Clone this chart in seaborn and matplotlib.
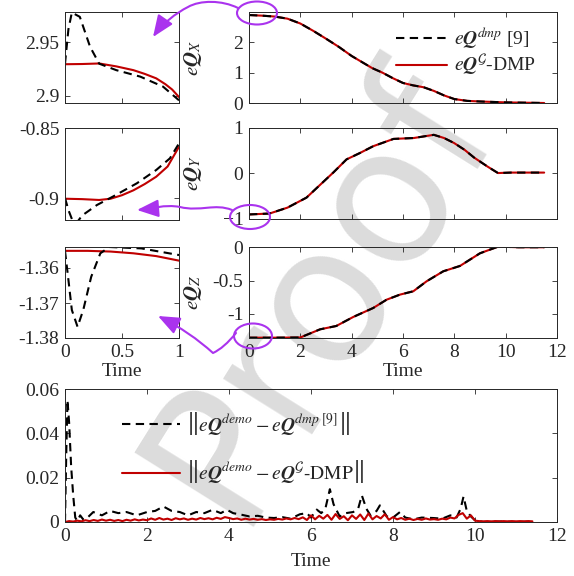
import numpy as np
import pandas as pd
import matplotlib
matplotlib.use("Agg")
import matplotlib.pyplot as plt
import seaborn as sns
from matplotlib.patches import Ellipse, FancyArrowPatch
from matplotlib.path import Path
from matplotlib.transforms import Affine2D
from matplotlib.lines import Line2D

# ---------------- data ----------------
# main trajectories (same for eQ^dmp and eQ^G-DMP at this scale)
t_x = [0, 0.5, 1, 1.5, 2, 2.5, 3, 3.5, 4, 4.4, 4.8, 5.2, 5.6, 6, 6.4, 6.8, 7.2, 7.6, 8, 8.5, 9, 10, 11.5]
qx = [2.90, 2.88, 2.85, 2.78, 2.62, 2.38, 2.12, 1.85, 1.55, 1.35, 1.15, 1.00, 0.82, 0.66, 0.58, 0.52,
      0.40, 0.25, 0.13, 0.07, 0.05, 0.02, 0.00]
t_y = [0, 0.8, 1.5, 2.24, 2.75, 3.3, 3.8, 4.32, 4.84, 5.63, 6.42, 7.2, 7.6, 7.99, 8.4, 8.77, 9.3, 9.7, 10.2, 11.5]
qy = [-0.90, -0.88, -0.75, -0.53, -0.26, 0.03, 0.31, 0.45, 0.60, 0.76, 0.78, 0.85, 0.78, 0.67, 0.52,
      0.35, 0.15, 0.01, 0.02, 0.02]
t_z = [0, 1, 2, 2.77, 3.4, 4.06, 4.84, 5.36, 5.88, 6.4, 6.92, 7.57, 8.22, 9.0, 9.71, 10.5, 11.5]
qz = [-1.355, -1.355, -1.352, -1.23, -1.18, -1.045, -0.91, -0.786, -0.71, -0.66, -0.51, -0.36, -0.28,
      -0.09, 0.01, 0.0, 0.0]

# zoomed insets, first second
ti_x_red = [0, 0.15, 0.3, 0.45, 0.6, 0.7, 0.8, 0.88, 0.94, 1.0]
qi_x_red = [2.9295, 2.9297, 2.9302, 2.9275, 2.924, 2.9205, 2.9164, 2.911, 2.906, 2.899]
ti_x_blk = [0, 0.03, 0.06, 0.13, 0.22, 0.3, 0.45, 0.66, 0.86, 0.98, 1.0]
qi_x_blk = [2.930, 2.962, 2.9775, 2.9735, 2.9457, 2.930, 2.924, 2.918, 2.9087, 2.8978, 2.896]

ti_y_red = [0, 0.15, 0.3, 0.4, 0.5, 0.6, 0.7, 0.8, 0.9, 1.0]
qi_y_red = [-0.9005, -0.9008, -0.9014, -0.9005, -0.898, -0.8945, -0.890, -0.8848, -0.8775, -0.8634]
ti_y_blk = [0, 0.03, 0.07, 0.1, 0.15, 0.28, 0.42, 0.63, 0.8, 0.92, 1.0]
qi_y_blk = [-0.900, -0.9086, -0.917, -0.918, -0.9125, -0.905, -0.899, -0.8895, -0.880, -0.8717, -0.861]

ti_z_red = [0, 0.2, 0.4, 0.6, 0.8, 1.0]
qi_z_red = [-1.3551, -1.3551, -1.3553, -1.3558, -1.3566, -1.3579]
ti_z_blk = [0, 0.03, 0.06, 0.11, 0.16, 0.23, 0.31, 0.39, 0.67, 1.0]
qi_z_blk = [-1.3551, -1.3634, -1.372, -1.3768, -1.372, -1.3625, -1.3558, -1.3540, -1.3544, -1.3563]

# error norms
t_err_dmp = [0, 0.03, 0.06, 0.1, 0.15, 0.2, 0.25, 0.3, 0.37, 0.45, 0.55, 0.69, 0.9, 1.1, 1.3, 1.5, 1.75,
             2.0, 2.2, 2.4, 2.6, 2.8, 3.0, 3.2, 3.4, 3.6, 3.8, 3.95, 4.1, 4.3, 4.5, 4.7, 4.9, 5.1, 5.3,
             5.5, 5.73, 5.9, 6.0, 6.14, 6.25, 6.35, 6.46, 6.55, 6.7, 6.85, 7.03, 7.15, 7.24, 7.35, 7.45,
             7.6, 7.68, 7.8, 7.85, 8.0, 8.17, 8.3, 8.5, 8.7, 8.98, 9.2, 9.4, 9.55, 9.65, 9.72, 9.8, 9.9,
             10.0, 10.2, 10.6, 11.0, 11.45]
err_dmp = [0.0, 0.03, 0.055, 0.045, 0.025, 0.012, 0.002, 0.0005, 0.003, 0.001, 0.002, 0.0045, 0.003,
           0.005, 0.004, 0.0045, 0.003, 0.0045, 0.005, 0.007, 0.005, 0.0045, 0.003, 0.0045, 0.004,
           0.0055, 0.004, 0.0055, 0.004, 0.0033, 0.0025, 0.0028, 0.002, 0.0018, 0.0022, 0.0015, 0.0035,
           0.004, 0.002, 0.0056, 0.004, 0.006, 0.0148, 0.008, 0.0025, 0.004, 0.0045, 0.006, 0.012,
           0.006, 0.003, 0.005, 0.0075, 0.004, 0.0025, 0.002, 0.0045, 0.002, 0.0012, 0.002, 0.0018,
           0.0015, 0.003, 0.002, 0.006, 0.0115, 0.005, 0.0025, 0.0008, 0.0, 0.0002, 0.0, 0.0002]
t_err_g = list(np.round(np.arange(0, 11.45, 0.1), 1))
err_g = [0.0, 0.0004, 0.0002, 0.0006, 0.0003, 0.0008, 0.0004, 0.0009, 0.0005, 0.0011, 0.0006,
         0.0010, 0.0005, 0.0009, 0.0004, 0.0010, 0.0006, 0.0012, 0.0007, 0.0011, 0.0008,
         0.0016, 0.0010, 0.0018, 0.0011, 0.0015, 0.0009, 0.0017, 0.0012, 0.0016, 0.0010,
         0.0015, 0.0011, 0.0018, 0.0013, 0.0017, 0.0012, 0.0019, 0.0014, 0.0022, 0.0018,
         0.0013, 0.0016, 0.0010, 0.0015, 0.0011, 0.0014, 0.0010, 0.0013, 0.0009, 0.0012,
         0.0010, 0.0014, 0.0011, 0.0016, 0.0012, 0.0018, 0.0013, 0.0021, 0.0009, 0.0030,
         0.0012, 0.0028, 0.0015, 0.0032, 0.0010, 0.0036, 0.0014, 0.0026, 0.0008, 0.0030,
         0.0014, 0.0034, 0.0009, 0.0038, 0.0012, 0.0027, 0.0016, 0.0035, 0.0010, 0.0022,
         0.0012, 0.0018, 0.0010, 0.0015, 0.0009, 0.0014, 0.0010, 0.0016, 0.0011, 0.0013,
         0.0010, 0.0015, 0.0012, 0.0020, 0.0016, 0.0032, 0.0040, 0.0015, 0.0030, 0.0006,
         0.0004, 0.0003, 0.0004, 0.0003, 0.0004, 0.0003, 0.0004, 0.0003, 0.0004, 0.0003,
         0.0004, 0.0003, 0.0004, 0.0003]

main_xticks = [0, 2, 4, 6, 8, 10, 12]
inset_xticks = [0, 0.5, 1]

# ---------------- style ----------------
sns.set_theme(style="ticks")
plt.rcParams.update({
    "font.family": ["Liberation Serif", "DejaVu Serif"],
    "mathtext.fontset": "stix",
    "axes.edgecolor": "#262626",
    "axes.linewidth": 0.7,
    "xtick.color": "#262626",
    "ytick.color": "#262626",
    "text.color": "#262626",
})

RED = "#c00000"
BLK = "black"
MAG = "#aa33ee"
FS = 14
W, H = 574, 576
fig = plt.figure(figsize=(W / 100, H / 100), dpi=100)
pix = Affine2D().scale(1 / W, -1 / H).translate(0, 1) + fig.transFigure

# watermark
fig.text(320 / W, 1 - 292 / H, "Proof", rotation=58, fontsize=138, color="#dcdcdc",
         ha="center", va="center", family="DejaVu Sans", zorder=-5)


def add_ax(l, t, r, b):
    ax = fig.add_axes([l / W, 1 - b / H, (r - l) / W, (b - t) / H])
    ax.set_facecolor("none")
    ax.tick_params(direction="in", top=True, right=True, length=3.5, width=0.6,
                   labelsize=FS, pad=4)
    for s in ax.spines.values():
        s.set_linewidth(0.7)
        s.set_color("#262626")
    return ax


def pair(ax, tr, vr, tb, vb):
    sns.lineplot(x=tr, y=vr, ax=ax, color=RED, lw=1.5, estimator=None, sort=False)
    sns.lineplot(x=tb, y=vb, ax=ax, color=BLK, lw=1.5, estimator=None, sort=False)
    ax.lines[-1].set_dashes((4, 2.6))


# main panels
axX = add_ax(249, 12, 557, 103)
pair(axX, t_x, qx, t_x, qx)
axX.set_xlim(0, 12); axX.set_ylim(0, 3)
axX.set_yticks([0, 1, 2]); axX.set_xticks(main_xticks); axX.set_xticklabels([])
axX.set_ylabel(r"$e\mathbfit{Q}_X$", fontsize=15)
axX.yaxis.set_label_coords(-0.145, 0.5)

axY = add_ax(249, 128, 557, 219)
pair(axY, t_y, qy, t_y, qy)
axY.set_xlim(0, 12); axY.set_ylim(-1, 1)
axY.set_yticks([-1, 0, 1]); axY.set_xticks(main_xticks); axY.set_xticklabels([])
axY.set_ylabel(r"$e\mathbfit{Q}_Y$", fontsize=15)
axY.yaxis.set_label_coords(-0.145, 0.5)

axZ = add_ax(249, 247, 557, 338)
pair(axZ, t_z, qz, t_z, qz)
axZ.set_xlim(0, 12); axZ.set_ylim(-1.36, 0.004)
axZ.set_yticks([-1, -0.5, 0]); axZ.set_yticklabels(["-1", "-0.5", "0"])
axZ.set_xticks(main_xticks)
axZ.set_xlabel("Time", fontsize=FS, labelpad=2)
axZ.set_ylabel(r"$e\mathbfit{Q}_Z$", fontsize=15)
axZ.yaxis.set_label_coords(-0.145, 0.5)

h1 = [Line2D([], [], color=BLK, lw=1.5, dashes=(4, 2.6)), Line2D([], [], color=RED, lw=1.5)]
l1 = [r"$e\mathbfit{Q}^{dmp}$ [9]", r"$e\mathbfit{Q}^{\mathcal{G}}$-DMP"]
axX.legend(h1, l1, loc="upper left", bbox_to_anchor=((396 - 249) / 308, 1 - (25 - 12) / 91),
           frameon=False, fontsize=FS, handlelength=2.6, handletextpad=0.4, labelspacing=0.1,
           borderaxespad=0, borderpad=0)

# insets
iX = add_ax(65, 12, 179, 103)
pair(iX, ti_x_red, qi_x_red, ti_x_blk, qi_x_blk)
iX.set_xlim(0, 1); iX.set_ylim(2.8935, 2.978)
iX.set_yticks([2.9, 2.95]); iX.set_yticklabels(["2.9", "2.95"])
iX.set_xticks(inset_xticks); iX.set_xticklabels([])

iY = add_ax(65, 128, 179, 220)
pair(iY, ti_y_red, qi_y_red, ti_y_blk, qi_y_blk)
iY.set_xlim(0, 1); iY.set_ylim(-0.9157, -0.85)
iY.set_yticks([-0.9, -0.85]); iY.set_yticklabels(["-0.9", "-0.85"])
iY.set_xticks(inset_xticks); iY.set_xticklabels([])

iZ = add_ax(65, 247, 179, 338)
pair(iZ, ti_z_red, qi_z_red, ti_z_blk, qi_z_blk)
iZ.set_xlim(0, 1); iZ.set_ylim(-1.38, -1.354)
iZ.set_yticks([-1.38, -1.37, -1.36]); iZ.set_yticklabels(["-1.38", "-1.37", "-1.36"])
iZ.set_xticks(inset_xticks); iZ.set_xticklabels(["0", "0.5", "1"])
iZ.set_xlabel("Time", fontsize=FS, labelpad=2)

# error panel
axE = add_ax(65, 389, 557, 522)
sns.lineplot(x=t_err_dmp, y=err_dmp, ax=axE, color=BLK, lw=1.5, estimator=None, sort=False)
axE.lines[-1].set_dashes((4, 2.6))
sns.lineplot(x=t_err_g, y=err_g, ax=axE, color=RED, lw=1.5, estimator=None, sort=False)
axE.set_xlim(0, 12); axE.set_ylim(0, 0.06)
axE.set_xticks(main_xticks)
axE.set_yticks([0, 0.02, 0.04, 0.06]); axE.set_yticklabels(["0", "0.02", "0.04", "0.06"])
axE.set_xlabel("Time", fontsize=FS, labelpad=6)
h2 = [Line2D([], [], color=BLK, lw=1.5, dashes=(4, 2.6)), Line2D([], [], color=RED, lw=1.5)]
l2 = [r"$\left\Vert e\mathbfit{Q}^{demo} - e\mathbfit{Q}^{dmp\ [9]}\right\Vert$",
      r"$\left\Vert e\mathbfit{Q}^{demo} - e\mathbfit{Q}^{\mathcal{G}}\mathrm{\text{-}DMP}\right\Vert$"]
axE.legend(h2, l2, loc="upper left", bbox_to_anchor=((122 - 65) / 492, (522 - 410) / 133),
           frameon=False, fontsize=FS, handlelength=3.0, handletextpad=0.3, labelspacing=1.1,
           borderaxespad=0, borderpad=0)

# magenta annotations
for (cx, cy, w, h) in [(257, 13, 40, 23), (250, 217, 40, 24), (253, 336, 38, 25)]:
    fig.add_artist(Ellipse((cx, cy), w, h, transform=pix, fill=False, edgecolor=MAG, lw=1.5))

paths = [
    ([(238, 8), (222, 0), (200, 0), (188, 7), (176, 13), (162, 24), (153, 37)],
     [Path.MOVETO, Path.CURVE4, Path.CURVE4, Path.CURVE4, Path.CURVE4, Path.CURVE4, Path.CURVE4]),
    ([(232, 210), (215, 203), (200, 212), (180, 207), (165, 204), (150, 209), (137, 210)],
     [Path.MOVETO, Path.CURVE4, Path.CURVE4, Path.CURVE4, Path.CURVE4, Path.CURVE4, Path.CURVE4]),
    ([(236, 333), (224, 348), (213, 353), (190, 332), (158, 316)],
     [Path.MOVETO, Path.CURVE3, Path.CURVE3, Path.CURVE3, Path.CURVE3]),
]
for verts, codes in paths:
    fig.add_artist(FancyArrowPatch(path=Path(verts, codes), transform=pix,
                                   arrowstyle="-|>,head_length=1.1,head_width=0.45",
                                   mutation_scale=12, color=MAG, lw=1.5))

fig.savefig("out.png", dpi=100)
